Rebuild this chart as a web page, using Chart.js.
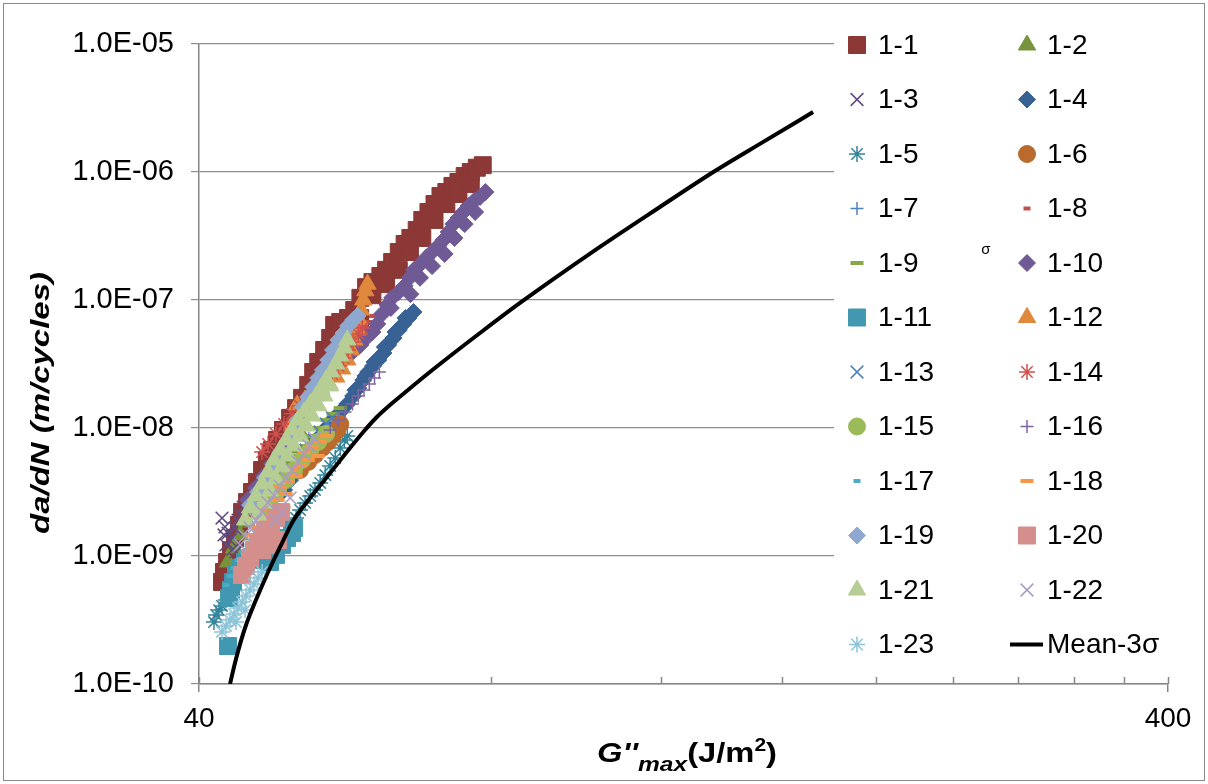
<!DOCTYPE html>
<html>
<head>
<meta charset="utf-8">
<script src="https://cdn.jsdelivr.net/npm/chart.js@4.4.1/dist/chart.umd.min.js"></script>
<style>
  html, body { margin: 0; padding: 0; background: #fff; }
  #wrap { width: 1208px; height: 784px; }
</style>
</head>
<body>
<div id="wrap"><canvas id="chart-crack" width="1208" height="784"></canvas></div>
<script>
// G''max (J/m2) vs da/dN (m/cycles), one list of [x, y] per specimen
const data1_1 = [[42.25,6.26e-10],[42.45,7.5e-10],[42.76,8.98e-10],[43.16,1.11e-9],[43.57,1.38e-9],[43.99,1.75e-9],[44.31,2.21e-9],[44.84,2.64e-9],[45.37,3.16e-9],[45.9,3.78e-9],[46.47,4.7e-9],[47.02,5.62e-9],[47.58,6.73e-9],[48.15,8.06e-9],[48.84,9.65e-9],[49.67,1.2e-8],[50.38,1.43e-8],[51.1,1.72e-8],[51.85,2.17e-8],[52.47,2.74e-8],[53.1,3.28e-8],[53.86,4.07e-8],[54.63,5.05e-8],[55.15,6.38e-8],[55.95,6.73e-8],[57.0,7.23e-8],[57.85,8.35e-8],[58.7,1.04e-7],[59.5,1.26e-7],[60.4,1.38e-7],[61.55,1.54e-7],[62.4,1.72e-7],[63.3,1.98e-7],[64.3,2.37e-7],[65.2,2.74e-7],[66.1,3.05e-7],[67.1,3.52e-7],[68.0,4.22e-7],[69.0,4.87e-7],[70.0,5.62e-7],[71.0,6.49e-7],[72.0,6.98e-7],[73.05,7.78e-7],[74.1,8.35e-7],[75.2,9.31e-7],[76.3,1.0e-6],[77.4,1.08e-6],[78.5,1.13e-6],
  [58.65,7.23e-8],[60.4,1.09e-7],[62.4,1.33e-7],[64.3,1.72e-7],[66.03,2.37e-7],[68.0,3.05e-7],[70.0,4.22e-7],[72.0,5.62e-7],[74.1,6.73e-7],[76.3,8.06e-7]];
const data1_2 = [[42.86,8.98e-10],[43.47,1.155e-9],[44.1,1.46e-9],[44.84,1.84e-9],[45.59,2.29e-9],[46.47,2.89e-9],[47.35,3.59e-9],[48.27,4.53e-9],[49.2,5.62e-9],[50.14,6.98e-9],[51.1,8.66e-9]];
const data1_3 = [[42.25,1.98e-9],[42.55,1.69e-9],[42.86,1.51e-9],[43.06,1.33e-9],[42.65,1.22e-9],[43.27,1.41e-9],[43.57,1.655e-9],[43.89,1.91e-9],[44.1,2.13e-9],[44.42,2.41e-9],[43.37,1.13e-9],[42.45,1.46e-9],[43.68,1.075e-9]];
const data1_4 = [[48.96,3.28e-9],[49.67,3.92e-9],[50.86,5.43e-9],[51.85,6.73e-9],[52.84,8.06e-9],[53.86,9.65e-9],[54.9,1.155e-8],[55.95,1.334e-8],[56.9,1.54e-8],[57.7,1.78e-8],[58.4,2.05e-8],[59.1,2.37e-8],[59.8,2.74e-8],[60.5,3.05e-8],[61.25,3.4e-8],[62.0,3.85e-8],[62.7,4.45e-8],[63.5,5.05e-8],[64.3,5.83e-8],[65.0,6.49e-8],[65.8,7.23e-8],[66.6,8.06e-8],
  [58.0,1.98e-8],[59.4,2.55e-8],[60.7,3.28e-8],[62.2,4.29e-8],[63.8,5.62e-8],[65.35,7.23e-8]];
const data1_5 = [[41.45,3.05e-10],[41.65,3.46e-10],[41.95,3.78e-10],[42.25,4.07e-10],[42.65,4.53e-10],[43.06,4.87e-10],[50.38,1.98e-9],[50.86,2.29e-9],[51.47,2.6e-9],[52.1,2.94e-9],[52.7,3.28e-9],[53.35,3.72e-9],[54.0,4.29e-9],[54.63,5.05e-9],[55.3,5.83e-9],[55.95,6.98e-9],[56.5,8.06e-9],[56.9,8.66e-9]];
const data1_6 = [[50.86,4.7e-9],[51.85,5.43e-9],[52.7,6.15e-9],[53.6,6.98e-9],[54.38,7.78e-9],[55.0,8.66e-9],[55.55,9.65e-9],[55.95,1.075e-8]];
const data1_7 = [[47.92,2.99e-9],[49.08,3.78e-9],[50.26,4.7e-9],[51.47,5.83e-9],[52.7,7.36e-9],[53.6,8.66e-9],[54.38,1.0e-8]];
const data1_8 = [[54.63,2.37e-8],[55.42,2.74e-8],[56.2,3.16e-8],[56.9,3.65e-8],[57.6,4.22e-8],[58.3,4.87e-8],[58.8,5.43e-8],[59.4,6.04e-8],[59.95,6.73e-8],[60.4,7.5e-8]];
const data1_9 = [[47.35,3.92e-9],[48.5,4.87e-9],[49.67,6.04e-9],[50.86,7.23e-9],[52.1,8.66e-9],[53.1,1.0e-8],[54.1,1.155e-8],[55.0,1.29e-8],[55.95,1.43e-8]];
const data1_10 = [[44.94,2.74e-9],[45.8,3.4e-9],[46.69,4.22e-9],[47.58,5.23e-9],[48.5,6.49e-9],[49.43,8.06e-9],[50.38,1.0e-8],[51.35,1.24e-8],[52.34,1.54e-8],[53.35,1.91e-8],[54.38,2.37e-8],[55.42,2.84e-8],[56.5,3.4e-8],[57.6,3.92e-8],[58.7,4.45e-8],[59.5,5.05e-8],[60.4,5.62e-8],[61.1,6.49e-8],[61.8,7.78e-8],[62.6,9.15e-8],[63.3,1.04e-7],[64.3,1.155e-7],[65.2,1.29e-7],[65.95,1.49e-7],[66.7,1.72e-7],[67.7,1.91e-7],[68.6,2.13e-7],[69.6,2.37e-7],[70.6,2.64e-7],[71.5,2.94e-7],[72.4,3.4e-7],[73.2,3.92e-7],[74.1,4.37e-7],[75.0,4.87e-7],[75.9,5.43e-7],[76.9,5.94e-7],[78.0,6.38e-7],[79.0,6.98e-7],
  [63.1,8.66e-8],[66.1,1.11e-7],[67.63,1.49e-7],[69.6,1.84e-7],[71.7,2.29e-7],[73.4,3.05e-7],[75.2,3.92e-7],[77.1,4.87e-7]];
const data1_11 = [[42.86,1.98e-10],[42.96,4.7e-10],[43.16,5.43e-10],[43.37,6.26e-10],[43.68,7.11e-10],[44.1,8.06e-10],[44.63,8.98e-10],[45.37,9.82e-10],[46.02,1.075e-9],[46.69,9.31e-10],[47.35,8.98e-10],[48.03,1.02e-9],[48.73,1.22e-9],[49.31,1.38e-9],[49.9,1.51e-9],[50.14,1.655e-9]];
const data1_12 = [[49.43,8.06e-9],[49.9,1.055e-8],[50.5,1.51e-8],[51.47,1.655e-8],[52.47,1.81e-8],[53.47,1.98e-8],[54.5,2.21e-8],[55.42,2.5e-8],[56.2,2.89e-8],[56.9,3.4e-8],[57.4,4.07e-8],[57.85,4.87e-8],[58.3,5.83e-8],[58.54,6.98e-8],[58.8,8.35e-8],[59.1,1.0e-7],[59.4,1.18e-7],[59.7,1.33e-7]];
const data1_13 = [[49.67,4.7e-9],[50.6,5.62e-9],[51.6,6.73e-9],[52.6,8.06e-9],[53.35,9.31e-9],[54.1,1.075e-8],[54.9,1.2e-8]];
const data1_14 = [[46.47,6.49e-9],[47.13,7.5e-9],[48.03,8.98e-9],[48.96,1.075e-8],[49.9,1.29e-8],[50.86,1.49e-8],[51.85,1.72e-8],[52.84,1.98e-8],[53.86,2.29e-8],[54.9,2.64e-8],[55.7,3.05e-8],[56.4,3.52e-8],[57.0,4.07e-8],[57.7,4.7e-8],[58.4,5.43e-8],[58.95,6.04e-8]];
const data1_15 = [[46.47,2.21e-9],[47.35,2.74e-9],[48.27,3.28e-9],[49.2,3.92e-9],[50.14,4.7e-9],[51.1,5.62e-9],[52.1,6.73e-9],[53.1,7.78e-9],[54.1,8.98e-9]];
const data1_16 = [[54.63,9.65e-9],[55.7,1.155e-8],[56.6,1.334e-8],[57.6,1.54e-8],[58.4,1.78e-8],[59.2,1.98e-8],[59.95,2.21e-8],[60.7,2.46e-8],[61.4,2.74e-8]];
const data1_17 = [[42.65,5.94e-10],[43.06,6.98e-10],[43.47,8.06e-10],[43.89,9.31e-10],[44.42,1.075e-9],[44.94,1.22e-9],[45.59,1.38e-9],[46.25,1.6e-9]];
const data1_18 = [[45.16,1.46e-9],[46.02,1.655e-9],[46.8,1.84e-9],[47.58,2.09e-9],[46.47,2.29e-9],[47.35,2.5e-9],[48.27,2.74e-9],[49.2,3.05e-9],[48.5,3.4e-9],[49.43,3.78e-9],[50.38,4.22e-9],[49.9,4.7e-9],[50.86,5.14e-9],[51.85,5.62e-9],[51.35,6.49e-9],[52.34,7.11e-9],[53.35,7.78e-9],[54.1,8.66e-9],[53.1,6.04e-9],[47.81,1.75e-9],[48.96,2.41e-9]];
const data1_19 = [[45.16,2.5e-9],[46.02,3.16e-9],[46.8,4.07e-9],[47.81,5.14e-9],[48.73,6.49e-9],[49.67,8.06e-9],[50.6,1.155e-8],[51.2,1.46e-8],[51.85,1.75e-8],[52.47,2.09e-8],[53.1,2.46e-8],[53.7,2.84e-8],[54.38,3.4e-8],[55.0,4.07e-8],[55.7,4.87e-8],[56.4,5.52e-8],[57.0,6.26e-8],[57.7,6.98e-8],[58.3,7.5e-8]];
const data1_20 = [[44.31,7.11e-10],[44.73,8.35e-10],[45.16,9.65e-10],[45.59,1.114e-9],[46.02,1.26e-9],[46.47,1.43e-9],[46.8,1.6e-9],[47.47,1.78e-9],[48.03,1.98e-9],[48.6,2.21e-9],[46.47,1.114e-9],[47.35,1.22e-9],[48.27,1.334e-9]];
const data1_21 = [[44.63,1.91e-9],[45.16,2.37e-9],[45.8,2.94e-9],[46.47,3.65e-9],[47.13,4.53e-9],[47.81,5.62e-9],[48.5,6.73e-9],[49.2,8.06e-9],[49.9,9.65e-9],[50.6,1.155e-8],[51.35,1.334e-8],[52.1,1.54e-8],[52.84,1.78e-8],[53.47,2.05e-8],[54.1,2.37e-8],[54.76,2.74e-8],[55.42,3.16e-8],[55.95,3.65e-8],[56.5,4.22e-8],[56.9,4.87e-8],[46.02,2.09e-9],[46.69,2.6e-9],[47.35,3.22e-9],[48.03,4.0e-9],[48.73,4.96e-9],[49.43,6.04e-9],[50.14,7.23e-9],[50.86,8.66e-9],[51.6,1.036e-8],[52.34,1.24e-8],[53.1,1.49e-8],[53.86,1.78e-8],[54.63,2.13e-8]];
const data1_22 = [[44.1,1.22e-9],[44.63,1.43e-9],[45.16,1.655e-9],[45.8,1.91e-9],[46.47,2.21e-9],[47.13,2.6e-9],[47.81,2.99e-9],[48.5,3.52e-9],[49.2,4.07e-9],[49.9,4.7e-9],[50.6,5.43e-9],[51.35,6.26e-9],[51.97,7.23e-9],[52.6,8.35e-9],[48.73,2.21e-9],[48.03,1.91e-9],[49.67,2.84e-9]];
const data1_23 = [[42.25,2.55e-10],[42.65,2.84e-10],[43.06,3.16e-10],[43.47,3.52e-10],[43.89,3.92e-10],[44.31,4.37e-10],[44.73,4.87e-10],[45.16,5.43e-10],[45.59,6.04e-10],[46.02,6.73e-10],[46.47,7.5e-10],[44.63,3.78e-10],[43.68,3.05e-10]];

// Mean-3σ design curve
const meanX = [43.06,43.57,44.1,44.73,45.48,46.36,47.35,48.5,50.02,52.08,54.63,57.27,59.1,60.9,62.97,65.35,67.63,70.91,77.99,85.77,103.7,119.6,136.3,153.5,172.1];
const meanY = [1e-10,1.46e-10,2.05e-10,2.89e-10,4.0e-10,5.62e-10,8.06e-10,1.176e-9,1.88e-9,2.84e-9,4.45e-9,6.98e-9,9.31e-9,1.197e-8,1.51e-8,1.91e-8,2.37e-8,3.16e-8,5.52e-8,9.48e-8,2.6e-7,5.33e-7,1.018e-6,1.75e-6,2.94e-6];

const seriesNames = ['1-1','1-2','1-3','1-4','1-5','1-6','1-7','1-8','1-9','1-10','1-11','1-12',
  '1-13','1-14','1-15','1-16','1-17','1-18','1-19','1-20','1-21','1-22','1-23'];
const seriesData = [data1_1,data1_2,data1_3,data1_4,data1_5,data1_6,data1_7,data1_8,data1_9,data1_10,
  data1_11,data1_12,data1_13,data1_14,data1_15,data1_16,data1_17,data1_18,data1_19,data1_20,data1_21,data1_22,data1_23];

// axis ticks
const yTickValues = [1e-10,1e-9,1e-8,1e-7,1e-6,1e-5];
const yTickLabels = ['1.0E-10','1.0E-09','1.0E-08','1.0E-07','1.0E-06','1.0E-05'];
const xTickValues = [40,80,120,160,200,240,280,320,360,400];
const xTickLabels = ['40','','','','','','','','','400'];

// marker styles
const seriesColors = ['#8c3836','#77933c','#5f4a7f','#386194','#31849b','#ba6a2c','#4f81bd','#c0504d',
  '#86a845','#6f5a96','#4198b0','#e0883c','#4f81bd','#d0504d','#9bbb59','#8064a2','#4bacc6','#f79646',
  '#8fa8cf','#d48f8d','#b6ce94','#a89bc4','#8cc4d8'];
const seriesStyles = ['rect','triangle','crossRot','rectRot','star','circle','cross','line','line','rectRot',
  'rect','triangle','crossRot','star','circle','cross','line','line','rectRot','rect','triangle','crossRot','star'];
const seriesRadii = [12,10,9,8.5,8,8.5,6.5,3.5,6.5,8.5,12,10,9,8,8.5,6.5,3.5,6.5,8.5,12,10,9,8];

const FONT = "'Liberation Sans', Arial, sans-serif";
const strokeOnly = ['crossRot','cross','star','line'];

function lineWidthFor(style) {
  if (style === 'line') return 4;
  if (strokeOnly.includes(style)) return 1.5;
  return 1;
}

const datasets = seriesData.map((pts, i) => ({
  label: seriesNames[i],
  data: pts.map(p => ({ x: p[0], y: p[1] })),
  showLine: false,
  pointStyle: seriesStyles[i],
  pointRadius: seriesRadii[i],
  pointHoverRadius: seriesRadii[i],
  pointBackgroundColor: seriesColors[i],
  pointBorderColor: seriesColors[i],
  pointBorderWidth: lineWidthFor(seriesStyles[i]),
  order: 100 - i,
}));

datasets.push({
  label: 'Mean-3σ',
  data: meanX.map((x, i) => ({ x: x, y: meanY[i] })),
  showLine: true,
  borderColor: '#000',
  borderWidth: 4,
  pointRadius: 0,
  cubicInterpolationMode: 'monotone',
  order: 0,
});

function drawMarker(ctx, style, radius, color, x, y) {
  ctx.save();
  ctx.fillStyle = color;
  ctx.strokeStyle = color;
  ctx.lineWidth = lineWidthFor(style);
  if (Chart.helpers && Chart.helpers.drawPoint) {
    Chart.helpers.drawPoint(ctx, { pointStyle: style, radius: radius, borderWidth: ctx.lineWidth, rotation: 0 }, x, y);
  } else {
    ctx.fillRect(x - radius * 0.7, y - radius * 0.7, radius * 1.4, radius * 1.4);
  }
  ctx.restore();
}

const decorPlugin = {
  id: 'decor',
  beforeDraw(chart) {
    const ctx = chart.ctx;
    ctx.save();
    ctx.fillStyle = '#fff';
    ctx.fillRect(0, 0, chart.width, chart.height);
    ctx.restore();
  },
  afterDraw(chart) {
    const ctx = chart.ctx;
    const xs = chart.scales.x;
    const area = chart.chartArea;
    ctx.save();

    // minor ticks on the x axis point inwards
    ctx.strokeStyle = '#868686';
    ctx.lineWidth = 1.5;
    xTickValues.forEach(v => {
      const px = Math.round(xs.getPixelForValue(v)) + 0.5;
      ctx.beginPath();
      ctx.moveTo(px, area.bottom);
      ctx.lineTo(px, area.bottom - 7);
      ctx.stroke();
    });

    // legend box
    ctx.fillStyle = '#fff';
    ctx.fillRect(834, 22, 334, 650);
    const colX = [857, 1027];
    const textX = [878, 1047];
    ctx.font = '28px ' + FONT;
    ctx.textBaseline = 'middle';
    ctx.textAlign = 'left';
    seriesNames.forEach((name, i) => {
      const col = i % 2, row = Math.floor(i / 2);
      const y = 45 + row * 54.5;
      drawMarker(ctx, seriesStyles[i], seriesRadii[i], seriesColors[i], colX[col], y);
      ctx.fillStyle = '#000';
      ctx.fillText(name, textX[col], y + 1);
    });
    const yMean = 45 + 11 * 54.5;
    ctx.strokeStyle = '#000';
    ctx.lineWidth = 4;
    ctx.beginPath();
    ctx.moveTo(1010, yMean);
    ctx.lineTo(1043, yMean);
    ctx.stroke();
    ctx.fillStyle = '#000';
    ctx.fillText('Mean-3σ', 1047, yMean + 1);

    // stray sigma
    ctx.font = '15px ' + FONT;
    ctx.textAlign = 'center';
    ctx.fillText('σ', 986, 250);

    // y title
    ctx.save();
    ctx.translate(42, 403);
    ctx.rotate(-Math.PI / 2);
    ctx.font = 'italic bold 26px ' + FONT;
    const yt = 'da/dN (m/cycles)';
    const ytw = ctx.measureText(yt).width;
    ctx.scale(262 / ytw, 1);
    ctx.textAlign = 'center';
    ctx.textBaseline = 'middle';
    ctx.fillText(yt, 0, 0);
    ctx.restore();

    // x title with subscript and superscript
    const parts = [
      { t: "G''", f: 'italic bold 28px ', dy: 0 },
      { t: 'max', f: 'italic bold 21px ', dy: 9 },
      { t: '(J/m', f: 'bold 28px ', dy: 0 },
      { t: '2', f: 'bold 18px ', dy: -11 },
      { t: ')', f: 'bold 28px ', dy: 0 },
    ];
    let total = 0;
    parts.forEach(p => { ctx.font = p.f + FONT; p.w = ctx.measureText(p.t).width; total += p.w; });
    ctx.save();
    ctx.translate(687 - 180 / 2, 762);
    ctx.scale(180 / total, 1);
    ctx.textAlign = 'left';
    ctx.textBaseline = 'alphabetic';
    let cx = 0;
    parts.forEach(p => { ctx.font = p.f + FONT; ctx.fillText(p.t, cx, p.dy); cx += p.w; });
    ctx.restore();

    // chart frame
    ctx.strokeStyle = '#8a8a8a';
    ctx.lineWidth = 1;
    ctx.strokeRect(3.5, 3.5, 1201, 777);
    ctx.restore();
  },
};

new Chart(document.getElementById('chart-crack').getContext('2d'), {
  type: 'scatter',
  data: { datasets: datasets },
  options: {
    responsive: false,
    devicePixelRatio: 1,
    animation: false,
    layout: { padding: { top: 44, right: 40, left: 0, bottom: 0 } },
    plugins: { legend: { display: false }, tooltip: { enabled: false } },
    scales: {
      x: {
        type: 'logarithmic',
        min: 40,
        max: 400,
        afterBuildTicks: (s) => { s.ticks = xTickValues.map(v => ({ value: v })); },
        afterFit: (s) => { s.height = 100; },
        ticks: {
          autoSkip: false,
          maxRotation: 0,
          padding: 10,
          color: '#000',
          font: { size: 28, family: FONT },
          callback: (v) => xTickLabels[xTickValues.indexOf(v)] || '',
        },
        grid: {
          drawOnChartArea: false,
          tickLength: 8,
          lineWidth: 1.5,
          color: (c) => (c.tick && (c.tick.value === 40 || c.tick.value === 400)) ? '#868686' : 'rgba(0,0,0,0)',
        },
        border: { color: '#868686', width: 1.5 },
      },
      y: {
        type: 'logarithmic',
        min: 1e-10,
        max: 1e-5,
        afterBuildTicks: (s) => { s.ticks = yTickValues.map(v => ({ value: v })); },
        afterFit: (s) => { s.width = 199; },
        ticks: {
          padding: 17,
          color: '#000',
          font: { size: 29, family: FONT },
          callback: (v) => {
            const i = yTickValues.findIndex(t => Math.abs(Math.log10(t) - Math.log10(v)) < 1e-6);
            return i >= 0 ? yTickLabels[i] : '';
          },
        },
        grid: { color: '#8e8e8e', lineWidth: 1.2, tickLength: 8 },
        border: { color: '#868686', width: 1.5 },
      },
    },
  },
  plugins: [decorPlugin],
});
</script>
</body>
</html>
